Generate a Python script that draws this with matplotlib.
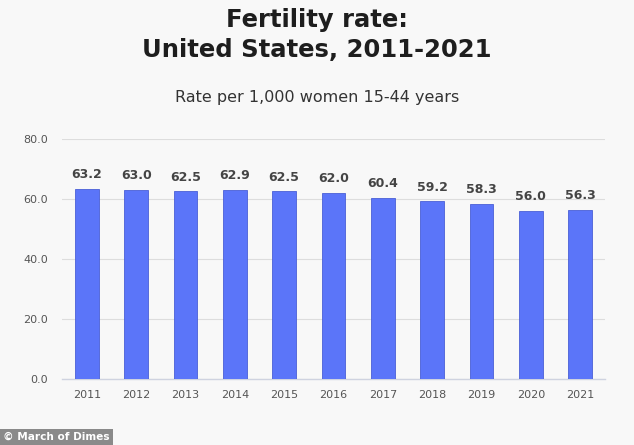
import matplotlib.pyplot as plt

years = ["2011", "2012", "2013", "2014", "2015", "2016",
         "2017", "2018", "2019", "2020", "2021"]
rates = [63.2, 63.0, 62.5, 62.9, 62.5, 62.0, 60.4, 59.2, 58.3, 56.0, 56.3]
y_ticks = [0, 20, 40, 60, 80]

bg = "#f8f8f8"
bar_color = "#5b75f9"

fig = plt.figure(figsize=(6.34, 4.45), dpi=100)
fig.patch.set_facecolor(bg)
ax = fig.add_axes([0.098, 0.148, 0.856, 0.54])
ax.set_facecolor(bg)

x = range(len(years))
ax.bar(x, rates, width=0.48, color=bar_color, edgecolor="#4a5fd6",
       linewidth=0.6, zorder=3)

# value labels above the bars
for xi, v in zip(x, rates):
    ax.text(xi, v + 2.6, f"{v:.1f}", ha="center", va="bottom", fontsize=9,
            fontweight="bold", color="#444444")

ax.set_xlim(-0.5, 10.5)
ax.set_ylim(0, 80)
ax.set_yticks(y_ticks)
ax.set_yticklabels([f"{t:.1f}" for t in y_ticks])
ax.set_xticks(list(x))
ax.set_xticklabels(years)
ax.tick_params(axis="both", length=0, labelsize=8, colors="#555555")
ax.tick_params(axis="y", pad=10)
ax.tick_params(axis="x", pad=8)
ax.grid(axis="y", color="#dddddd", linewidth=0.8, zorder=0)
for s in ["top", "right", "left"]:
    ax.spines[s].set_visible(False)
ax.spines["bottom"].set_color("#cfd3e0")
ax.spines["bottom"].set_linewidth(1.0)

fig.text(0.5, 0.955, "Fertility rate:", ha="center", va="center",
         fontsize=17.5, fontweight="heavy", color="#1e1e1e")
fig.text(0.5, 0.888, "United States, 2011-2021", ha="center", va="center",
         fontsize=17.5, fontweight="heavy", color="#1e1e1e")
fig.text(0.5, 0.78, "Rate per 1,000 women 15-44 years", ha="center",
         va="center", fontsize=11.5, color="#333333")

fig.text(0.004, 0.018, "© March of Dimes", ha="left", va="center",
         fontsize=7.6, fontweight="bold", color="white",
         bbox=dict(facecolor="#8a8a8a", edgecolor="none", pad=2.5))

fig.savefig("out.png", dpi=100, facecolor=bg)
